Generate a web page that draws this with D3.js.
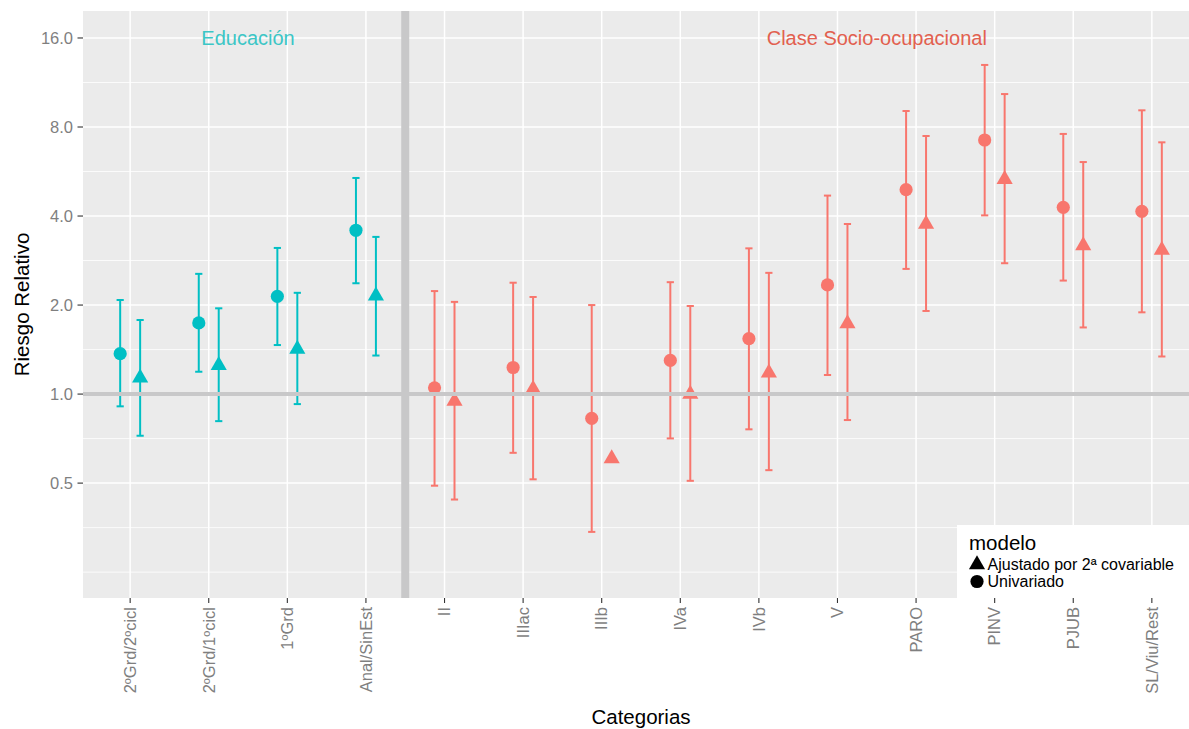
<!DOCTYPE html>
<html>
<head>
<meta charset="utf-8">
<script src="https://cdn.jsdelivr.net/npm/d3@7"></script>
<style>
  html, body { margin: 0; padding: 0; background: #ffffff; }
  svg { display: block; font-family: "Liberation Sans", Arial, Helvetica, sans-serif; }
</style>
</head>
<body>
<svg id="chart" width="1189" height="729"></svg>
<script>
// Categories along the x axis (education levels, then socio-occupational class)
const categories = ["2ºGrd/2ºcicl", "2ºGrd/1ºcicl", "1ºGrd", "Anal/SinEst",
  "II", "IIIac", "IIIb", "IVa", "IVb", "V", "PARO", "PINV", "PJUB", "SL/Viu/Rest"];
const groupOf = ["edu", "edu", "edu", "edu",
  "clase", "clase", "clase", "clase", "clase", "clase", "clase", "clase", "clase", "clase"];

// Univariate model: relative risk and 95% CI
const uniRR = [1.37, 1.74, 2.14, 3.58, 1.05, 1.23, 0.828, 1.30, 1.54, 2.34, 4.91, 7.23, 4.28, 4.15];
const uniLo = [0.909, 1.19, 1.465, 2.37, 0.49, 0.633, 0.342, 0.708, 0.76, 1.16, 2.65, 4.02, 2.42, 1.89];
const uniHi = [2.08, 2.55, 3.12, 5.38, 2.23, 2.38, 2.0, 2.39, 3.11, 4.69, 9.06, 12.97, 7.58, 9.11];

// Model adjusted for a second covariate: relative risk and 95% CI
const adjRR = [1.135, 1.25, 1.42, 2.15, 0.947, 1.04, 0.605, 1.0, 1.18, 1.73, 3.76, 5.32, 3.18, 3.07];
const adjLo = [0.723, 0.81, 0.925, 1.35, 0.44, 0.515, null, 0.509, 0.553, 0.817, 1.91, 2.77, 1.68, 1.34];
const adjHi = [1.78, 1.95, 2.2, 3.40, 2.05, 2.13, null, 1.985, 2.57, 3.76, 7.46, 10.34, 6.09, 7.10];

// Axis breaks
const yBreaks = [0.5, 1, 2, 4, 8, 16];
const yBreakLabels = ["0.5", "1.0", "2.0", "4.0", "8.0", "16.0"];
const yMinorBreaks = [0.25, Math.SQRT1_2 / 2, Math.SQRT1_2, Math.SQRT2, 2 * Math.SQRT2, 4 * Math.SQRT2, 8 * Math.SQRT2];

const groupColor = { edu: "#00BFC4", clase: "#F8766D" };
const groupTitle = [
  { label: "Educación", pos: 1.5, rr: 16, color: "#3CC6C6" },
  { label: "Clase Socio-ocupacional", pos: 9.5, rr: 16, color: "#E2604F" }
];
const legendItems = [
  { label: "Ajustado por 2ª covariable", shape: "triangle" },
  { label: "Univariado", shape: "circle" }
];

const svg = d3.select("#chart");
const panel = { left: 83, top: 11, right: 1199, bottom: 598 };

const x = d3.scaleLinear().domain([-0.6, categories.length - 1 + 0.6]).range([panel.left, panel.right]);
const y = d3.scaleLog().base(2).domain([0.2044, 19.74]).range([panel.bottom, panel.top]);

const dodge = 0.127;
const triPath = d3.symbol().type(d3.symbolTriangle).size(113)();

// panel background
svg.append("rect")
  .attr("x", panel.left).attr("y", panel.top)
  .attr("width", panel.right - panel.left).attr("height", panel.bottom - panel.top)
  .attr("fill", "#EBEBEB");

const grid = svg.append("g");
grid.selectAll(".ymin").data(yMinorBreaks).join("line")
  .attr("x1", panel.left).attr("x2", panel.right)
  .attr("y1", d => y(d)).attr("y2", d => y(d))
  .attr("stroke", "#ffffff").attr("stroke-width", 0.8);
grid.selectAll(".ymaj").data(yBreaks).join("line")
  .attr("x1", panel.left).attr("x2", panel.right)
  .attr("y1", d => y(d)).attr("y2", d => y(d))
  .attr("stroke", "#ffffff").attr("stroke-width", 1.5);
grid.selectAll(".xmaj").data(categories).join("line")
  .attr("x1", (d, i) => x(i)).attr("x2", (d, i) => x(i))
  .attr("y1", panel.top).attr("y2", panel.bottom)
  .attr("stroke", "#ffffff").attr("stroke-width", 1.5);

// error bars
function errorBars(lo, hi, offset) {
  const g = svg.append("g");
  categories.forEach((c, i) => {
    if (lo[i] == null || hi[i] == null) return;
    const cx = x(i + offset);
    const col = groupColor[groupOf[i]];
    g.append("line").attr("x1", cx).attr("x2", cx)
      .attr("y1", y(lo[i])).attr("y2", y(hi[i]))
      .attr("stroke", col).attr("stroke-width", 2);
    [lo[i], hi[i]].forEach(v => {
      g.append("line").attr("x1", cx - 3.6).attr("x2", cx + 3.6)
        .attr("y1", y(v)).attr("y2", y(v))
        .attr("stroke", col).attr("stroke-width", 2);
    });
  });
}
errorBars(uniLo, uniHi, -dodge);
errorBars(adjLo, adjHi, dodge);

// points
svg.append("g").selectAll("circle").data(uniRR).join("circle")
  .attr("cx", (d, i) => x(i - dodge)).attr("cy", d => y(d)).attr("r", 6.6)
  .attr("fill", (d, i) => groupColor[groupOf[i]]);
svg.append("g").selectAll("path").data(adjRR).join("path")
  .attr("d", triPath)
  .attr("transform", (d, i) => `translate(${x(i + dodge)},${y(d)})`)
  .attr("fill", (d, i) => groupColor[groupOf[i]]);

// reference line at RR = 1 and separator between the two groups
svg.append("line")
  .attr("x1", panel.left).attr("x2", panel.right)
  .attr("y1", y(1)).attr("y2", y(1))
  .attr("stroke", "#C8C8C9").attr("stroke-width", 4);
svg.append("line")
  .attr("x1", x(3.5)).attr("x2", x(3.5))
  .attr("y1", panel.top).attr("y2", panel.bottom)
  .attr("stroke", "#C8C8C9").attr("stroke-width", 8);

// group titles
svg.append("g").selectAll("text").data(groupTitle).join("text")
  .attr("x", d => x(d.pos)).attr("y", d => y(d.rr)).attr("dy", "0.35em")
  .attr("text-anchor", "middle").attr("font-size", 20)
  .attr("fill", d => d.color).text(d => d.label);

// y axis
const yAxis = svg.append("g");
yAxis.selectAll("line").data(yBreaks).join("line")
  .attr("x1", panel.left - 5.5).attr("x2", panel.left)
  .attr("y1", d => y(d)).attr("y2", d => y(d))
  .attr("stroke", "#333333").attr("stroke-width", 1.1);
yAxis.selectAll("text").data(yBreaks).join("text")
  .attr("x", panel.left - 10).attr("y", d => y(d)).attr("dy", "0.35em")
  .attr("text-anchor", "end").attr("font-size", 16.5).attr("fill", "#7F7F7F")
  .text((d, i) => yBreakLabels[i]);

// x axis
const xAxis = svg.append("g");
xAxis.selectAll("line").data(categories).join("line")
  .attr("x1", (d, i) => x(i)).attr("x2", (d, i) => x(i))
  .attr("y1", panel.bottom).attr("y2", panel.bottom + 5)
  .attr("stroke", "#333333").attr("stroke-width", 1.1);
xAxis.selectAll("text").data(categories).join("text")
  .attr("transform", (d, i) => `translate(${x(i)},${panel.bottom + 9}) rotate(-90)`)
  .attr("dy", "0.35em").attr("text-anchor", "end")
  .attr("font-size", 16.5).attr("fill", "#7F7F7F")
  .text(d => d);

// axis titles
svg.append("text")
  .attr("x", (panel.left + panel.right) / 2).attr("y", 724)
  .attr("text-anchor", "middle").attr("font-size", 20.5).attr("fill", "#000")
  .text("Categorias");
svg.append("text")
  .attr("transform", `translate(29,${(panel.top + panel.bottom) / 2}) rotate(-90)`)
  .attr("text-anchor", "middle").attr("font-size", 20.5).attr("fill", "#000")
  .text("Riesgo Relativo");

// legend
const lg = svg.append("g").attr("transform", "translate(957,525)");
lg.append("rect").attr("x", 0).attr("y", 0).attr("width", 240).attr("height", 73).attr("fill", "#ffffff");
lg.append("text").attr("x", 12).attr("y", 25).attr("font-size", 20.5).attr("fill", "#000").text("modelo");
legendItems.forEach((it, k) => {
  const cy = 39.5 + k * 17;
  if (it.shape === "triangle") {
    lg.append("path").attr("d", triPath).attr("transform", `translate(20,${cy})`).attr("fill", "#000");
  } else {
    lg.append("circle").attr("cx", 20).attr("cy", cy).attr("r", 6.6).attr("fill", "#000");
  }
  lg.append("text").attr("x", 30.5).attr("y", cy + 5.5).attr("font-size", 16).attr("fill", "#000").text(it.label);
});
</script>
</body>
</html>
